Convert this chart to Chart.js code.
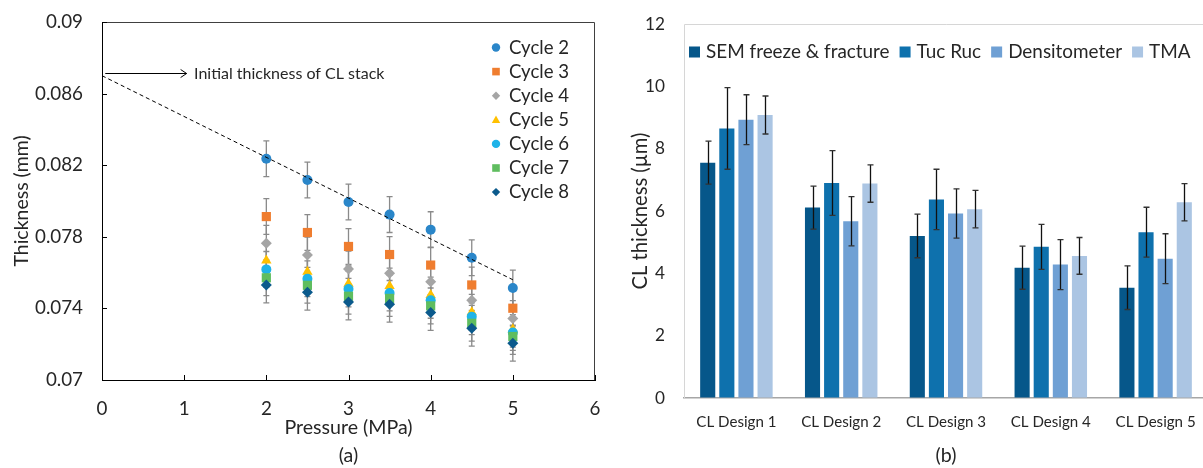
<!DOCTYPE html>
<html lang="en">
<head>
<meta charset="UTF-8">
<title>CL thickness</title>
<script src="https://cdn.jsdelivr.net/npm/chart.js"></script>
<style>
  html, body { margin: 0; padding: 0; background: #fff; overflow: hidden; }
  #left { position: absolute; left: 0; top: 0; width: 605px; height: 468px; }
  #right { position: absolute; left: 605px; top: 0; width: 603px; height: 468px; }
</style>
</head>
<body>
<div id="left"><canvas id="scatterChart"></canvas></div>
<div id="right"><canvas id="barChart"></canvas></div>
<script>
// ---- (a) thickness vs pressure ----
const pressures = [2, 2.5, 3, 3.5, 4, 4.5, 5];
const cycleLabels = ['Cycle 2', 'Cycle 3', 'Cycle 4', 'Cycle 5', 'Cycle 6', 'Cycle 7', 'Cycle 8'];
const cycle2 = [0.08236, 0.08117, 0.07994, 0.07924, 0.07840, 0.07683, 0.07514];
const cycle3 = [0.07913, 0.07824, 0.07746, 0.07701, 0.07642, 0.07531, 0.07401];
const cycle4 = [0.07764, 0.07699, 0.07620, 0.07596, 0.07549, 0.07445, 0.07343];
const cycle5 = [0.07668, 0.07605, 0.07538, 0.07525, 0.07475, 0.07378, 0.07284];
const cycle6 = [0.07618, 0.07566, 0.07508, 0.07486, 0.07445, 0.07354, 0.07265];
const cycle7 = [0.07571, 0.07529, 0.07468, 0.07456, 0.07414, 0.07317, 0.07243];
const cycle8 = [0.07531, 0.07490, 0.07436, 0.07423, 0.07377, 0.07289, 0.07206];
const cycleErr = [0.001, 0.001, 0.001, 0.001, 0.001, 0.001, 0.001];
const trendX = [0, 5];
const trendY = [0.087, 0.0756];

// ---- (b) CL thickness by design ----
const designs = ['CL Design 1', 'CL Design 2', 'CL Design 3', 'CL Design 4', 'CL Design 5'];
const methodLabels = ['SEM freeze & fracture', 'Tuc Ruc', 'Densitometer', 'TMA'];
const semVals = [7.55, 6.11, 5.20, 4.18, 3.54];
const semErr = [0.69, 0.69, 0.70, 0.69, 0.70];
const tucVals = [8.65, 6.90, 6.37, 4.85, 5.32];
const tucErr = [1.31, 1.04, 0.97, 0.72, 0.80];
const densVals = [8.93, 5.67, 5.92, 4.28, 4.47];
const densErr = [0.80, 0.79, 0.79, 0.80, 0.80];
const tmaVals = [9.08, 6.88, 6.06, 4.56, 6.28];
const tmaErr = [0.61, 0.60, 0.60, 0.59, 0.60];

const FONT = 'Lato, "Open Sans", sans-serif';
const TEXT = '#262626';
Chart.defaults.font.family = FONT;
Chart.defaults.color = TEXT;

// pick a font size so a sample string gets the width it has in the picture
const measureCtx = document.createElement('canvas').getContext('2d');
function fitSize(text, width) {
  measureCtx.font = '100px ' + FONT;
  return +(100 * width / measureCtx.measureText(text).width).toFixed(1);
}
const tickSizeA = fitSize('0.086', 48);
const xTitleSizeA = fitSize('Pressure (MPa)', 128);
const yTitleSizeA = fitSize('Thickness (mm)', 131);
const legendSizeA = fitSize('Cycle 2', 60);
const noteSize = fitSize('Initial thickness of CL stack', 190);
const legendSizeB = fitSize('SEM freeze & fracture', 184);
const tickSizeB = fitSize('10', 20);
const titleSizeB = fitSize('CL thickness (µm)', 157);
const catSizeB = fitSize('CL Design 5', 80);

const cycleColors = ['#2a86c9', '#ef7d2f', '#a5a5a5', '#ffc000', '#1fb3e8', '#5fbd5f', '#0b5a8c'];
const cycleShapes = ['circle', 'rect', 'rectRot', 'triangle', 'circle', 'rect', 'rectRot'];
const shapeRadius = { circle: 5, rect: 6.5, rectRot: 5.5, triangle: 6 };

function drawShape(ctx, shape, x, y, r) {
  ctx.beginPath();
  if (shape === 'circle') {
    ctx.arc(x, y, r, 0, Math.PI * 2);
  } else if (shape === 'rect') {
    ctx.rect(x - r, y - r, 2 * r, 2 * r);
  } else if (shape === 'rectRot') {
    ctx.moveTo(x, y - r); ctx.lineTo(x + r, y); ctx.lineTo(x, y + r); ctx.lineTo(x - r, y);
    ctx.closePath();
  } else if (shape === 'triangle') {
    ctx.moveTo(x, y - r); ctx.lineTo(x + r, y + r * 0.75); ctx.lineTo(x - r, y + r * 0.75);
    ctx.closePath();
  }
  ctx.fill();
}

const cycleData = [cycle2, cycle3, cycle4, cycle5, cycle6, cycle7, cycle8];
const scatterSets = cycleData.map((vals, i) => ({
  type: 'scatter',
  label: cycleLabels[i],
  data: vals.map((v, j) => ({ x: pressures[j], y: v })),
  err: vals.map(() => cycleErr[i]),
  backgroundColor: cycleColors[i],
  borderWidth: 0,
  pointStyle: cycleShapes[i],
  pointRadius: shapeRadius[cycleShapes[i]],
  order: cycleData.length - i
}));
scatterSets.push({
  type: 'line',
  label: 'trend',
  data: trendX.map((x, i) => ({ x: x, y: trendY[i] })),
  borderColor: '#000',
  borderWidth: 1,
  borderDash: [4, 3],
  pointRadius: 0,
  order: 0
});

// error bars behind the markers
const scatterErrorBars = {
  id: 'scatterErrorBars',
  beforeDatasetsDraw(chart) {
    const { ctx, scales: { x, y } } = chart;
    ctx.save();
    ctx.strokeStyle = '#8a8a8a';
    ctx.lineWidth = 1.3;
    chart.data.datasets.forEach(ds => {
      if (!ds.err) return;
      ds.data.forEach((p, j) => {
        const px = x.getPixelForValue(p.x);
        const top = y.getPixelForValue(p.y + ds.err[j]);
        const bot = y.getPixelForValue(p.y - ds.err[j]);
        ctx.beginPath();
        ctx.moveTo(px, top); ctx.lineTo(px, bot);
        ctx.moveTo(px - 3, top); ctx.lineTo(px + 3, top);
        ctx.moveTo(px - 3, bot); ctx.lineTo(px + 3, bot);
        ctx.stroke();
      });
    });
    ctx.restore();
  }
};

// frame, inner ticks, annotation, legend and caption
const scatterDecor = {
  id: 'scatterDecor',
  afterDraw(chart) {
    const { ctx, chartArea: a, scales: { x, y } } = chart;
    ctx.save();
    ctx.strokeStyle = '#404040';
    ctx.lineWidth = 1;
    ctx.beginPath();
    ctx.moveTo(a.left, a.top + 0.5); ctx.lineTo(a.right - 0.5, a.top + 0.5); ctx.lineTo(a.right - 0.5, a.bottom);
    ctx.stroke();

    ctx.strokeStyle = '#000';
    ctx.beginPath();
    x.ticks.forEach(t => {
      const px = Math.round(x.getPixelForValue(t.value)) + 0.5;
      ctx.moveTo(px, a.bottom); ctx.lineTo(px, a.bottom - 5);
    });
    y.ticks.forEach(t => {
      const py = Math.round(y.getPixelForValue(t.value)) + 0.5;
      ctx.moveTo(a.left, py); ctx.lineTo(a.left + 5, py);
    });
    ctx.stroke();

    // arrow to initial thickness
    const ay = Math.round(y.getPixelForValue(0.087)) - 2.5;
    const ax0 = x.getPixelForValue(0.04);
    const ax1 = x.getPixelForValue(1.03);
    ctx.beginPath();
    ctx.moveTo(ax0, ay); ctx.lineTo(ax1, ay);
    ctx.moveTo(ax1 - 6, ay - 4); ctx.lineTo(ax1, ay); ctx.lineTo(ax1 - 6, ay + 4);
    ctx.stroke();
    ctx.fillStyle = TEXT;
    ctx.font = noteSize + 'px ' + FONT;
    ctx.textAlign = 'left';
    ctx.textBaseline = 'middle';
    ctx.fillText('Initial thickness of CL stack', x.getPixelForValue(1.12), ay);

    // legend inside the plot
    ctx.font = legendSizeA + 'px ' + FONT;
    chart.data.datasets.forEach((ds, i) => {
      if (!ds.err) return;
      const ly = a.top + 25.5 + i * 24.1;
      ctx.fillStyle = ds.backgroundColor;
      drawShape(ctx, ds.pointStyle, a.right - 99, ly, ds.pointStyle === 'rect' ? 3.8 : 4.2);
      ctx.fillStyle = TEXT;
      ctx.fillText(ds.label, a.right - 86, ly);
    });

    ctx.font = xTitleSizeA + 'px ' + FONT;
    ctx.textAlign = 'center';
    ctx.fillText('(a)', (a.left + a.right) / 2, 456);
    ctx.restore();
  }
};

new Chart(document.getElementById('scatterChart'), {
  type: 'scatter',
  data: { datasets: scatterSets },
  options: {
    responsive: true,
    maintainAspectRatio: false,
    animation: false,
    layout: { padding: { top: 22, right: 10, bottom: 29, left: 0 } },
    scales: {
      x: {
        type: 'linear', min: 0, max: 6,
        ticks: { stepSize: 1, font: { size: tickSizeA }, padding: 4, color: TEXT },
        grid: { display: true, drawOnChartArea: false, drawTicks: true, tickLength: 14, color: 'transparent' },
        border: { color: '#000', width: 1 },
        title: { display: true, text: 'Pressure (MPa)', font: { size: xTitleSizeA }, padding: 0, color: TEXT },
        afterFit(s) { s.height = 59; }
      },
      y: {
        min: 0.07, max: 0.09,
        ticks: { stepSize: 0.004, font: { size: tickSizeA }, padding: 5, color: TEXT,
          callback: v => String(+v.toFixed(3)) },
        grid: { display: true, drawOnChartArea: false, drawTicks: true, tickLength: 14, color: 'transparent' },
        border: { color: '#000', width: 1 },
        title: { display: true, text: 'Thickness (mm)', font: { size: yTitleSizeA }, padding: { top: 10 }, color: TEXT },
        afterFit(s) { s.width = 102; }
      }
    },
    plugins: { legend: { display: false }, tooltip: { enabled: false } }
  },
  plugins: [scatterErrorBars, scatterDecor]
});

// ---- bar chart ----
const methodColors = ['#06578a', '#0e71ad', '#6fa0d4', '#abc5e3'];
const methodVals = [semVals, tucVals, densVals, tmaVals];
const methodErrs = [semErr, tucErr, densErr, tmaErr];

const barErrorBars = {
  id: 'barErrorBars',
  afterDatasetsDraw(chart) {
    const { ctx, scales: { y } } = chart;
    ctx.save();
    ctx.lineWidth = 1.3;
    chart.data.datasets.forEach((ds, i) => {
      chart.getDatasetMeta(i).data.forEach((bar, j) => {
        const px = Math.round(bar.x) + 0.5;
        const top = y.getPixelForValue(ds.data[j] + ds.err[j]);
        const bot = y.getPixelForValue(ds.data[j] - ds.err[j]);
        ctx.strokeStyle = '#111';
        ctx.beginPath();
        ctx.moveTo(px, top); ctx.lineTo(px, bot);
        ctx.stroke();
        ctx.strokeStyle = '#333';
        ctx.beginPath();
        ctx.moveTo(px - 3, top); ctx.lineTo(px + 3, top);
        ctx.moveTo(px - 3, bot); ctx.lineTo(px + 3, bot);
        ctx.stroke();
      });
    });
    ctx.restore();
  }
};

const barDecor = {
  id: 'barDecor',
  beforeDatasetsDraw(chart) {
    const { ctx, chartArea: a } = chart;
    ctx.save();
    ctx.strokeStyle = '#d6d6d6';
    ctx.lineWidth = 1;
    ctx.beginPath();
    ctx.moveTo(a.left + 0.5, a.bottom); ctx.lineTo(a.left + 0.5, a.top + 0.5); ctx.lineTo(a.right, a.top + 0.5);
    ctx.stroke();
    ctx.restore();
  },
  afterDraw(chart) {
    const { ctx, chartArea: a } = chart;
    ctx.save();
    ctx.font = legendSizeB + 'px ' + FONT;
    ctx.textBaseline = 'middle';
    ctx.textAlign = 'left';
    let lx = a.left + 5;
    const ly = a.top + 28;
    chart.data.datasets.forEach(ds => {
      ctx.fillStyle = ds.backgroundColor;
      ctx.fillRect(lx, ly - 5.5, 11, 11);
      ctx.fillStyle = TEXT;
      ctx.fillText(ds.label, lx + 17, ly);
      lx += 17 + ctx.measureText(ds.label).width + 10;
    });
    ctx.font = xTitleSizeA + 'px ' + FONT;
    ctx.textAlign = 'center';
    ctx.fillText('(b)', (a.left + a.right) / 2, 456);
    ctx.restore();
  }
};

new Chart(document.getElementById('barChart'), {
  type: 'bar',
  data: {
    labels: designs,
    datasets: methodVals.map((vals, i) => ({
      label: methodLabels[i],
      data: vals,
      err: methodErrs[i],
      backgroundColor: methodColors[i],
      borderWidth: 0,
      categoryPercentage: 0.73,
      barPercentage: 0.79
    }))
  },
  options: {
    responsive: true,
    maintainAspectRatio: false,
    animation: false,
    layout: { padding: { top: 24, right: 0, bottom: 22, left: 0 } },
    scales: {
      x: {
        ticks: { font: { size: catSizeB }, padding: 3, color: TEXT },
        grid: { display: true, drawOnChartArea: false, drawTicks: true, tickLength: 12, color: 'transparent' },
        border: { color: '#a6a6a6', width: 1.5 },
        afterFit(s) { s.height = 48; }
      },
      y: {
        min: 0, max: 12,
        ticks: { stepSize: 2, font: { size: tickSizeB }, padding: 5, color: TEXT },
        grid: { display: true, drawOnChartArea: false, drawTicks: true, tickLength: 14, color: 'transparent' },
        border: { display: false },
        title: { display: true, text: 'CL thickness (µm)', font: { size: titleSizeB }, padding: { top: 23 }, color: TEXT },
        afterFit(s) { s.width = 79; }
      }
    },
    plugins: { legend: { display: false }, tooltip: { enabled: false } }
  },
  plugins: [barErrorBars, barDecor]
});
</script>
</body>
</html>
